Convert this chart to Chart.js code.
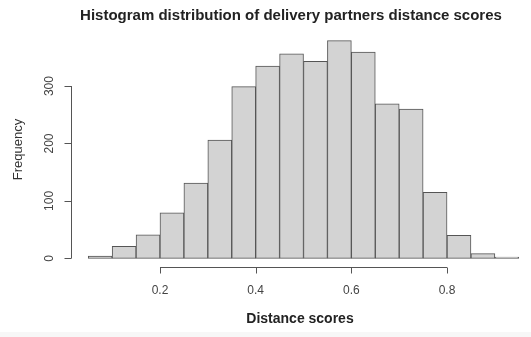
<!DOCTYPE html>
<html>
<head>
<meta charset="utf-8">
<script src="https://cdn.jsdelivr.net/npm/chart.js@4"></script>
<style>
  html, body { margin: 0; padding: 0; background: #fff; overflow: hidden; }
  #wrap { width: 531px; height: 337px; }
</style>
</head>
<body>
<div id="wrap"><canvas id="myChart" width="531" height="337"></canvas></div>
<script>
// histogram bins (left edges), width 0.05
const binStarts = [0.05, 0.10, 0.15, 0.20, 0.25, 0.30, 0.35, 0.40, 0.45,
                   0.50, 0.55, 0.60, 0.65, 0.70, 0.75, 0.80, 0.85, 0.90];
const counts = [4, 21, 41, 79, 131, 206, 299, 335, 356,
                343, 379, 359, 269, 260, 115, 40, 8, 2];
const binWidth = 0.05;
const xTicks = [0.2, 0.4, 0.6, 0.8];
const yTicks = [0, 100, 200, 300];

const points = binStarts.map((b, i) => ({ x: b + binWidth / 2, y: counts[i] }));

const FONT = '"Liberation Sans", Arial, Helvetica, sans-serif';

// R style axes + labels drawn from the chart's own scales
const baseAxes = {
    id: 'baseAxes',
    beforeDraw(chart) {
        const c = chart.ctx;
        c.save();
        c.fillStyle = '#f7f7f7';
        c.fillRect(0, 332, chart.width, chart.height - 332);
        c.restore();
    },
    afterDraw(chart) {
        const ctx = chart.ctx;
        const xs = chart.scales.x, ys = chart.scales.y;
        const area = chart.chartArea;
        ctx.save();
        ctx.strokeStyle = '#555';
        ctx.lineWidth = 1;

        // x axis
        const ay = Math.round(area.bottom) + 0.5;
        ctx.beginPath();
        ctx.moveTo(xs.getPixelForValue(xTicks[0]), ay);
        ctx.lineTo(xs.getPixelForValue(xTicks[xTicks.length - 1]), ay);
        xTicks.forEach(t => {
            const px = Math.round(xs.getPixelForValue(t)) + 0.5;
            ctx.moveTo(px, ay);
            ctx.lineTo(px, ay + 6);
        });
        ctx.stroke();
        ctx.fillStyle = '#444';
        ctx.font = '12px ' + FONT;
        ctx.textAlign = 'center';
        ctx.textBaseline = 'middle';
        xTicks.forEach(t => {
            ctx.fillText(t.toFixed(1), xs.getPixelForValue(t), ay + 23);
        });

        // y axis
        const ax = Math.round(area.left) + 0.5;
        ctx.beginPath();
        ctx.moveTo(ax, ys.getPixelForValue(yTicks[0]));
        ctx.lineTo(ax, ys.getPixelForValue(yTicks[yTicks.length - 1]));
        yTicks.forEach(t => {
            const py = Math.round(ys.getPixelForValue(t)) + 0.5;
            ctx.moveTo(ax, py);
            ctx.lineTo(ax - 7, py);
        });
        ctx.stroke();
        yTicks.forEach(t => {
            ctx.save();
            ctx.translate(ax - 22, ys.getPixelForValue(t));
            ctx.rotate(-Math.PI / 2);
            ctx.fillText(String(t), 0, 0);
            ctx.restore();
        });

        // axis titles
        ctx.fillStyle = '#333';
        ctx.save();
        ctx.translate(18, (area.top + area.bottom) / 2);
        ctx.rotate(-Math.PI / 2);
        ctx.font = '13px ' + FONT;
        ctx.fillText('Frequency', 0, 0);
        ctx.restore();

        ctx.fillStyle = '#222';
        ctx.font = 'bold 14px ' + FONT;
        ctx.fillText('Distance scores', 300, 319);

        ctx.font = 'bold 15px ' + FONT;
        ctx.fillText('Histogram distribution of delivery partners distance scores', 291, 16);
        ctx.restore();
    }
};

const ctx = document.getElementById('myChart').getContext('2d');
const myChart = new Chart(ctx, {
    type: 'bar',
    data: {
        datasets: [{
            label: 'Frequency',
            data: points,
            backgroundColor: '#d3d3d3',
            borderColor: '#555555',
            borderWidth: 1,
            borderSkipped: false,
            barPercentage: 1,
            categoryPercentage: 1,
        }]
    },
    options: {
        responsive: false,
        animation: false,
        layout: { padding: { left: 71, top: 32, right: 0, bottom: 70 } },
        scales: {
            x: { type: 'linear', min: 0.014, max: 0.9755, offset: false, display: false },
            y: { min: -15.16, max: 394.16, display: false },
        },
        plugins: {
            legend: { display: false },
            tooltip: { enabled: false },
            title: { display: false },
        }
    },
    plugins: [baseAxes]
});
</script>
</body>
</html>
